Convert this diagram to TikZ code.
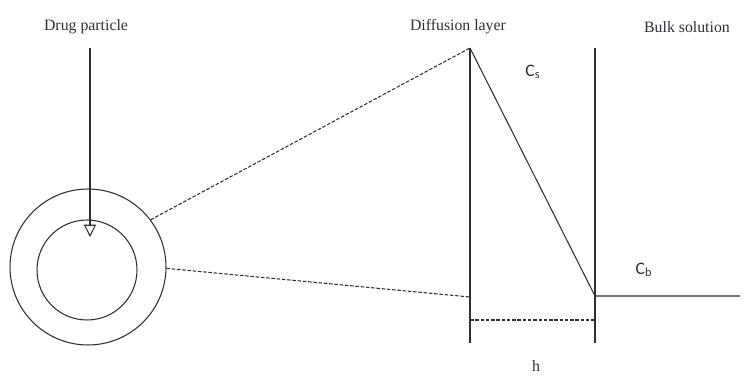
\documentclass[tikz,border=0pt]{standalone}
\usepackage{fontspec}
\setmainfont{Liberation Serif}
\newfontfamily\labelfont{Carlito}
\usetikzlibrary{arrows.meta, positioning}
\definecolor{inkgray}{HTML}{2e2e36}

\begin{document}
\begin{tikzpicture}[
  x=0.02cm, y=-0.02cm,
  line/.style={draw=inkgray, line width=0.6pt},
  dashline/.style={draw=inkgray, line width=0.6pt, dash pattern=on 2pt off 1pt},
  ring/.style={circle, draw=inkgray, line width=0.6pt, inner sep=0pt},
  heading/.style={font=\small, text=inkgray},
  conc/.style={font=\labelfont, text=inkgray},
]
  \useasboundingbox (0,0) rectangle (744,378);

  % Particle
  \node[ring, minimum size=3.12cm] (outer) at (88,267) {};
  \node[ring, minimum size=2.0cm] (inner) at (87,270) {};
  \node[heading] (drug) at (86,27) {Drug particle};
  \coordinate (drugtop) at (90,48);
  \coordinate (drugtip) at (90,237);
  \draw[line, -{Triangle[open, length=7pt, width=7pt]}] (drugtop) -- (drugtip);

  % Layer boundaries
  \coordinate (Ltop) at (470,48);
  \coordinate (Lbot) at (470,343);
  \coordinate (Rtop) at (595,48);
  \coordinate (Rbot) at (595,343);
  \coordinate (Lmid) at (470,297);
  \coordinate (Rmid) at (595,296);
  \coordinate (Bend) at (740,296);
  \coordinate (Lh) at (470,320);
  \coordinate (Rh) at (595,320);
  \draw[line] (Ltop) -- (Lbot);
  \draw[line] (Rtop) -- (Rbot);

  % Zoom lines
  \draw[dashline] (outer.37) -- (Ltop);
  \draw[dashline] (outer.-1) -- (Lmid);

  % Concentration profile
  \draw[line] (Ltop) -- (Rmid) -- (Bend);
  \draw[dashline] (Lh) -- (Rh);

  % Labels
  \node[heading] (diff) at (458,27) {Diffusion layer};
  \node[heading] (bulk) at (687,27) {Bulk solution};
  \node[conc] (cs) at (533,72) {C\textsubscript{s}};
  \node[conc] (cb) at (644,270) {C\textsubscript{b}};
  \node[heading] (h) at (536,366) {h};
\end{tikzpicture}
\end{document}
